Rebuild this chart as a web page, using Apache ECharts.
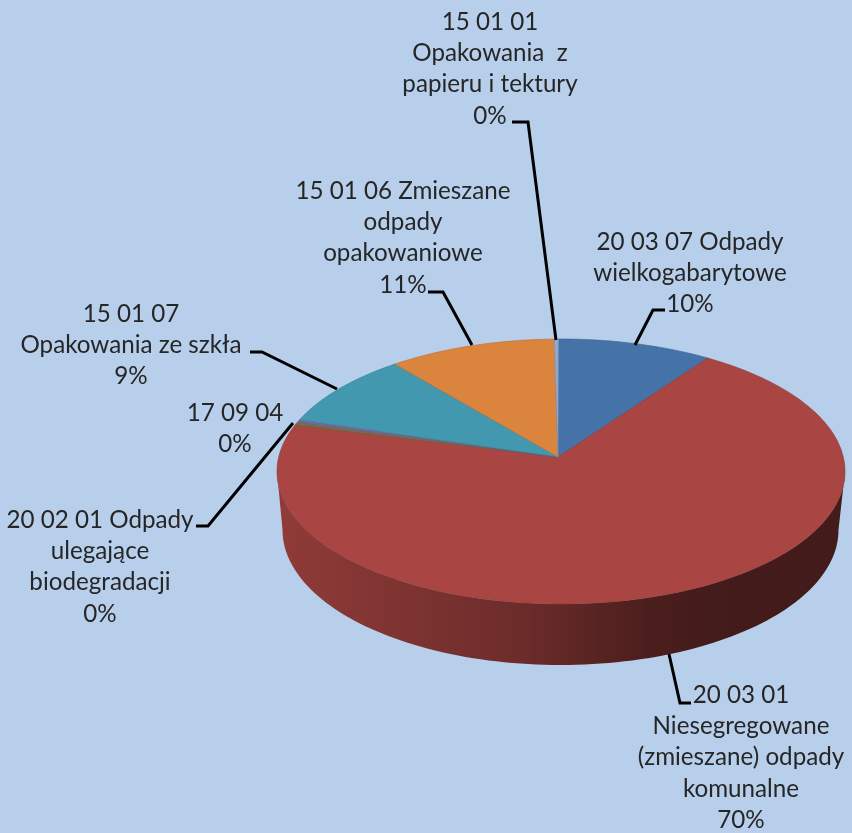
<!DOCTYPE html>
<html style="height: 100%">
<head>
    <meta charset="utf-8">
    <script src="https://cdn.jsdelivr.net/npm/echarts@6/dist/echarts.min.js"></script>
</head>
<body style="height: 100%; margin: 0">
<div id="container" style="width: 852px; height: 833px"></div>
<script type="text/javascript">
    // data, clockwise from the top of the pie
    var categories = [
        '20 03 07 Odpady\nwielkogabarytowe',
        '20 03 01\nNiesegregowane\n(zmieszane) odpady\nkomunalne',
        '20 02 01 Odpady\nulegające\nbiodegradacji',
        '17 09 04',
        '15 01 07\nOpakowania ze szkła',
        '15 01 06 Zmieszane\nodpady\nopakowaniowe',
        '15 01 01\nOpakowania  z\npapieru i tektury'
    ];
    var sliceValues = [9.75, 69.5, 0.3, 0.35, 9.25, 10.6, 0.25];
    var sliceColors = ['#4572a7', '#a94542', '#6b7a3c', '#80609f', '#4198af', '#db843d', '#93a9cf'];

    // label block: centre x, top y, leader line
    var labelLayout = [
        {x: 690, y: 226, line: [[635, 345], [653, 310], [665, 310]]},
        {x: 741, y: 679, line: [[669, 654], [680, 703], [691, 703]]},
        {x: 100, y: 504, line: [[293, 423], [208, 526], [196, 526]]},
        {x: 235, y: 397, line: null},
        {x: 131, y: 298, line: [[337, 389], [262, 352], [250, 352]]},
        {x: 403, y: 175, line: [[472, 345], [443, 292], [428, 292]]},
        {x: 490, y: 6, line: [[556, 340], [528, 122], [512, 122]]}
    ];

    // 3d look of the pie
    var topRim = {cx: 561, cy: 471.5, a: 284, b: 132.5};
    var bottomRim = {cx: 560.5, cy: 530, a: 278, b: 135};
    var tilt = -0.109;
    var startAngle = -0.6;
    var apex = [558, topRim.cy + topRim.b * tilt];

    var total = sliceValues.reduce(function (s, v) { return s + v; }, 0);

    function sliceAngles(i) {
        var before = 0;
        for (var k = 0; k < i; k++) {
            before += sliceValues[k];
        }
        return [startAngle + before / total * 360, startAngle + (before + sliceValues[i]) / total * 360];
    }

    // degrees clockwise from top -> point on a rim, with perspective
    function rimPoint(rim, deg) {
        var r = deg * Math.PI / 180;
        var u = Math.sin(r), v = -Math.cos(r);
        var d = 1 + tilt * v;
        return [
            rim.cx + rim.a * u * Math.sqrt(1 - tilt * tilt) / d,
            rim.cy + rim.b * (v + tilt) / d
        ];
    }

    function arcPoints(rim, from, to) {
        var pts = [];
        var n = Math.max(2, Math.ceil(Math.abs(to - from) / 1.5));
        for (var i = 0; i <= n; i++) {
            pts.push(rimPoint(rim, from + (to - from) * i / n));
        }
        return pts;
    }

    function shade(color, f) {
        var c = parseInt(color.slice(1), 16);
        return 'rgb(' + Math.round((c >> 16) * f) + ',' + Math.round(((c >> 8) & 255) * f) + ',' + Math.round((c & 255) * f) + ')';
    }

    function renderTop(params, api) {
        var ang = sliceAngles(params.dataIndex);
        var color = sliceColors[params.dataIndex];
        return {
            type: 'polygon',
            shape: {points: [apex].concat(arcPoints(topRim, ang[0], ang[1]))},
            style: {fill: color, stroke: shade(color, 0.85), lineWidth: 0.6}
        };
    }

    function renderWall(params, api) {
        var ang = sliceAngles(params.dataIndex);
        // only the front part of the side can be seen
        var from = Math.max(ang[0], 96.3);
        var to = Math.min(ang[1], 263.7);
        if (to <= from) {
            return null;
        }
        var color = sliceColors[params.dataIndex];
        var pts = arcPoints(topRim, from, to).concat(arcPoints(bottomRim, to, from));
        return {
            type: 'polygon',
            shape: {points: pts},
            style: {
                fill: new echarts.graphic.LinearGradient(277, 0, 845, 0, [
                    {offset: 0, color: shade(color, 0.85)},
                    {offset: 0.21, color: shade(color, 0.75)},
                    {offset: 0.43, color: shade(color, 0.64)},
                    {offset: 0.66, color: shade(color, 0.44)},
                    {offset: 0.8, color: shade(color, 0.39)},
                    {offset: 1, color: shade(color, 0.39)}
                ], true)
            }
        };
    }

    function renderLabel(params, api) {
        var i = params.dataIndex;
        var layout = labelLayout[i];
        var children = [];
        if (layout.line) {
            children.push({
                type: 'polyline',
                shape: {points: layout.line},
                style: {fill: null, stroke: '#000', lineWidth: 3}
            });
        }
        children.push({
            type: 'text',
            x: layout.x,
            y: layout.y,
            style: {
                text: categories[i] + '\n' + Math.round(sliceValues[i] / total * 100) + '%',
                fill: '#262626',
                font: '24.2px Lato',
                lineHeight: 31.4,
                align: 'center',
                verticalAlign: 'top'
            }
        });
        return {type: 'group', children: children};
    }

    function rows() {
        return sliceValues.map(function (v) { return [v]; });
    }

    var myChart = echarts.init(document.getElementById('container'));
    var option = {
        backgroundColor: '#b8cfec',
        animation: false,
        series: [
            {type: 'custom', coordinateSystem: 'none', silent: true, z: 1, renderItem: renderWall, data: rows()},
            {type: 'custom', coordinateSystem: 'none', silent: true, z: 2, renderItem: renderTop, data: rows()},
            {type: 'custom', coordinateSystem: 'none', silent: true, z: 3, renderItem: renderLabel, data: rows()}
        ]
    };
    myChart.setOption(option);
</script>
</body>
</html>
